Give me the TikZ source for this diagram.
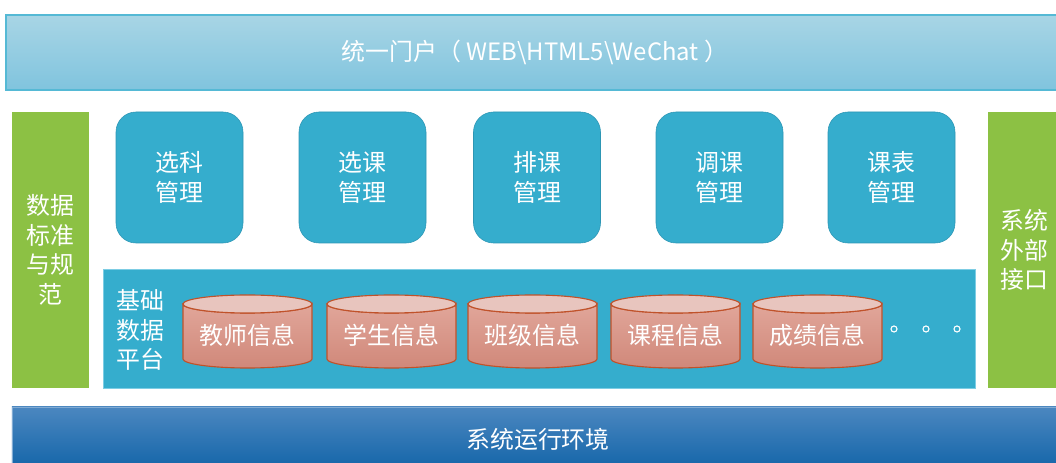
\documentclass[tikz,border=0pt]{standalone}
\usepackage{fontspec}
\setmainfont{Noto Sans CJK SC}
\usetikzlibrary{positioning}

\definecolor{portaltop}{RGB}{168,213,229}
\definecolor{portalbot}{RGB}{128,196,222}
\definecolor{portalline}{RGB}{85,185,213}
\definecolor{sidegreen}{RGB}{140,193,68}
\definecolor{moduleblue}{RGB}{53,173,205}
\definecolor{moduleline}{RGB}{45,150,180}
\definecolor{platformline}{RGB}{125,205,228}
\definecolor{dbtop}{RGB}{232,197,190}
\definecolor{dbupper}{RGB}{225,166,154}
\definecolor{dblower}{RGB}{208,136,122}
\definecolor{dbborder}{RGB}{192,82,42}
\definecolor{envtop}{RGB}{75,135,192}
\definecolor{envbot}{RGB}{18,100,168}

\begin{document}
\begin{tikzpicture}[
    cn/.style={font=\fontsize{17}{21}\selectfont},
    portal/.style={rectangle,draw=portalline,line width=1pt,top color=portaltop,bottom color=portalbot,minimum width=26.45cm,minimum height=1.875cm,text=white,cn},
    sidebar/.style={rectangle,fill=sidegreen,minimum height=6.9cm,text=white,align=center,cn},
    module/.style={rectangle,rounded corners=0.5cm,draw=moduleline,fill=moduleblue,minimum width=3.175cm,minimum height=3.275cm,text=white,align=center,cn},
    platform/.style={rectangle,draw=platformline,fill=moduleblue,minimum width=21.8cm,minimum height=2.975cm},
    dblabel/.style={rectangle,minimum width=3.225cm,minimum height=1.825cm,text=white,cn},
    dbline/.style={draw=dbborder,line width=0.8pt},
    dot/.style={circle,draw=white,line width=0.8pt,inner sep=0pt,minimum size=0.15cm},
    runenv/.style={rectangle,draw=envtop!70!white,top color=envtop,bottom color=envbot,minimum width=26.3cm,minimum height=1.6cm,text=white,cn}
]
\useasboundingbox (0,0) rectangle (26.4,11.575);

% Top: portal
\node[portal] (portal) at (13.375,10.2625) {统一门户（ WEB\textbackslash HTML5\textbackslash WeChat ）};

% Side bars
\node[sidebar,minimum width=1.925cm] (standard) at (1.2625,5.325) {数据\\标准\\与规\\范};
\node[sidebar,minimum width=1.8cm] (external) at (25.6,5.325) {系统\\外部\\接口};

% Business modules
\foreach \n/\x/\t in {xuanke/4.4875/选科, xuanlesson/9.0625/选课, paike/13.425/排课, tiaoke/17.9875/调课, kebiao/22.2875/课表} {
    \node[module] (\n) at (\x,7.1375) {\t\\管理};
}

% Base data platform
\node[platform] (platform) at (13.475,3.3625) {};
\node[text=white,align=center,cn] (platformlabel) at (3.5,3.325) {基础\\数据\\平台};

% Databases
\foreach \n/\x/\t in {teacher/6.1875/教师信息, student/9.7875/学生信息, class/13.3125/班级信息, course/16.8875/课程信息, score/20.4375/成绩信息} {
    \shadedraw[dbline,top color=dbupper,bottom color=dblower]
        (\x-1.6125,3.975) -- (\x-1.6125,2.6)
        arc[start angle=180,end angle=360,x radius=1.6125cm,y radius=0.225cm]
        -- (\x+1.6125,3.975)
        arc[start angle=0,end angle=-180,x radius=1.6125cm,y radius=0.225cm] -- cycle;
    \draw[dbline,fill=dbtop] (\x,3.975) ellipse[x radius=1.6125cm,y radius=0.225cm];
    \node[dblabel] (\n) at (\x,3.2) {\t};
}
\node[dot] (more1) at (22.35,3.35) {};
\node[dot] (more2) at (23.15,3.35) {};
\node[dot] (more3) at (23.925,3.35) {};

% Bottom: runtime environment
\node[runenv] (runenv) at (13.45,0.6) {系统运行环境};

\end{tikzpicture}
\end{document}
